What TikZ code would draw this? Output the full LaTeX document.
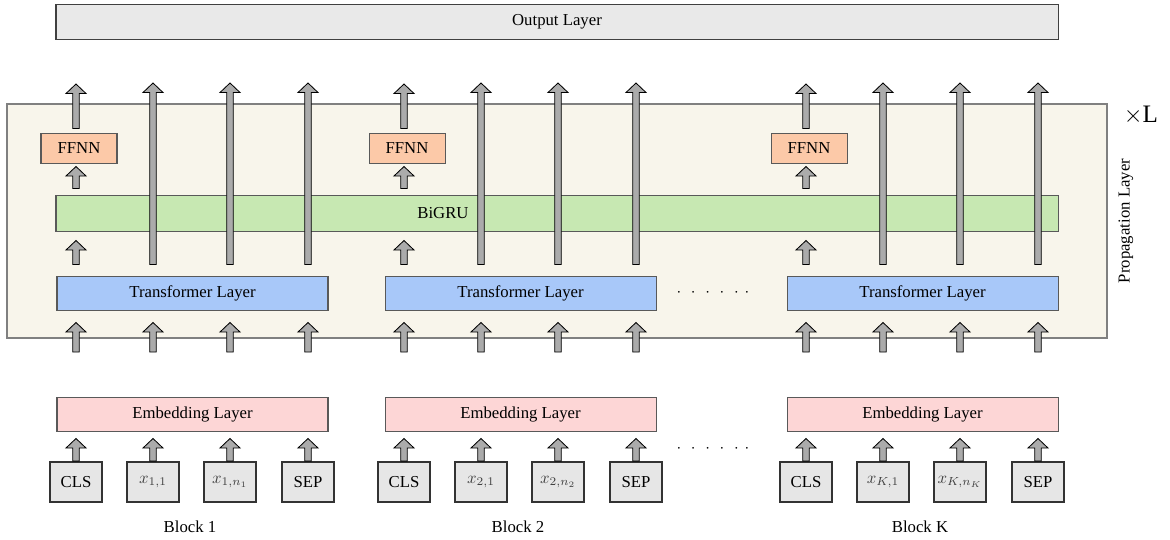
\documentclass[tikz,border=0pt]{standalone}
\usepackage{fontspec}
\setmainfont{Liberation Serif}
\usetikzlibrary{calc}

\definecolor{outgray}{HTML}{E9E9E9}
\definecolor{propfill}{HTML}{F8F5EB}
\definecolor{ffnnfill}{HTML}{FCC9A8}
\definecolor{grufill}{HTML}{C7E8B2}
\definecolor{trfill}{HTML}{A8C8F9}
\definecolor{embfill}{HTML}{FDD6D6}
\definecolor{tokfill}{HTML}{E6E6E6}

\newlength\pxl
\setlength\pxl{0.021cm}

\newcommand{\sixdots}{$\cdot\hspace{3.6pt}\cdot\hspace{3.6pt}\cdot\hspace{3.6pt}\cdot\hspace{3.6pt}\cdot\hspace{3.6pt}\cdot$}

\tikzset{
  layerbox/.style={draw=black!65, line width=0.6pt, inner sep=0pt},
  ffnnbox/.style={layerbox, fill=ffnnfill, minimum width=76\pxl, minimum height=30\pxl},
  tok/.style={draw=black!80, fill=tokfill, line width=1.1pt, inner sep=0pt,
    minimum width=52\pxl, minimum height=40\pxl},
  fat/.style={fill=black!33, draw=black, line width=0.5pt, line join=miter,
    to path={($(\tikztostart)+(-3.3,0)$) -- ($(\tikztotarget)+(-3.3,9.5)$)
      -- ++(-6.7,0) -- (\tikztotarget) -- ($(\tikztotarget)+(10,9.5)$)
      -- ++(-6.7,0) -- ($(\tikztostart)+(3.3,0)$) -- cycle}}
}

\begin{document}
\begin{tikzpicture}[x=0.021cm, y=-0.021cm, every node/.style={font=\normalsize}]
  \useasboundingbox (0,0) rectangle (1170,539);

  % output layer
  \node[layerbox, draw=black!75, fill=outgray, minimum width=1002\pxl, minimum height=35\pxl]
    (out) at (557,21.5) {Output Layer};

  % propagation layer
  \node[draw=black!50, fill=propfill, line width=1.2pt, inner sep=0pt,
    minimum width=1100\pxl, minimum height=234\pxl] (prop) at (557,221) {};
  \node[rotate=90] (proplabel) at (1126,221) {Propagation Layer};
  \node (times) at (1141,115) {\fontsize{15}{18}\selectfont$\times$L};

  % bigru
  \node[layerbox, fill=grufill, minimum width=1002\pxl, minimum height=36\pxl]
    (gru) at (557,213) {};
  \node (grulabel) at (443,213) {BiGRU};

  % dots between blocks
  \node (dotstr) at (713,293) {\sixdots};
  \node (dotsemb) at (713,449) {\sixdots};

  % blocks
  \foreach \dx/\n/\a/\b in {0/1/{x_{1,1}}/{x_{1,n_1}},
      328/2/{x_{2,1}}/{x_{2,n_2}}, 730/K/{x_{K,1}}/{x_{K,n_K}}} {
    \node[layerbox, fill=trfill, minimum width=271\pxl, minimum height=34\pxl]
      (tr\n) at (192.5+\dx,293) {Transformer Layer};
    \node[layerbox, fill=embfill, minimum width=271\pxl, minimum height=34\pxl]
      (emb\n) at (192.5+\dx,414) {Embedding Layer};
    \node[ffnnbox] (ff\n) at (79+\dx,148) {FFNN};

    \node[tok] (c\n) at (76+\dx,482) {CLS};
    \node[tok, text=black!75] (a\n) at (153+\dx,482) {$\a$};
    \node[tok, text=black!75] (b\n) at (230+\dx,482) {$\b$};
    \node[tok] (s\n) at (308+\dx,482) {SEP};
    \node (blk\n) at (190+\dx,527) {Block \n};

    % tokens into embedding, and into the propagation layer
    \foreach \t in {c,a,b,s} {
      \draw[fat] (\t\n.north) to ($(\t\n.north |- emb\n.south)+(0,7)$);
      \draw[fat] ($(\t\n |- prop.south)+(0,13)$) to ($(\t\n |- tr\n.south)+(0,12)$);
    }

    % cls through ffnn
    \draw[fat] ($(c\n |- tr\n.north)+(0,-11)$) to ($(c\n |- gru.south)+(0,9)$);
    \draw[fat] ($(c\n |- gru.north)+(0,-6)$) to ($(c\n |- ff\n.south)+(0,3)$);
    \draw[fat] ($(c\n |- ff\n.north)+(0,-4)$) to ($(c\n |- prop.north)+(0,-19)$);

    % other tokens past the bigru
    \foreach \t in {a,b,s}
      \draw[fat] ($(\t\n |- tr\n.north)+(0,-11)$) to ($(\t\n |- prop.north)+(0,-20)$);
  }
\end{tikzpicture}
\end{document}
